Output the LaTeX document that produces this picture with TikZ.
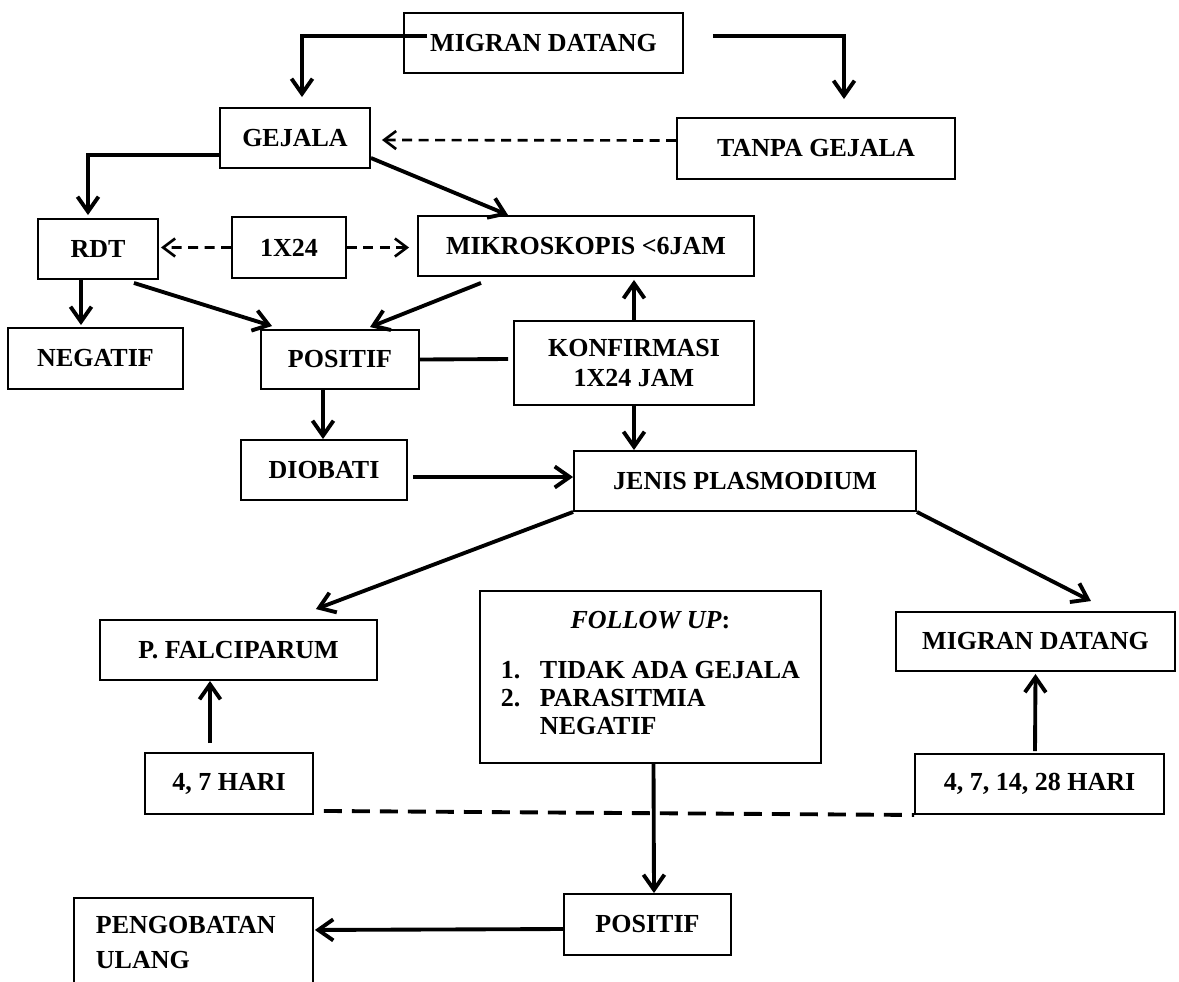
\documentclass[tikz,border=0pt]{standalone}
\usepackage{fontspec}
\setmainfont{Liberation Serif}
\usepackage{tikz}
\usetikzlibrary{calc, arrows.meta}
\tikzstyle{box}=[draw, shape=rectangle, line width=1.1pt, inner sep=0pt, align=center, font=\bfseries\fontsize{14.8}{17}\selectfont]
\tikzstyle{arr}=[line width=2.2pt, -{Straight Barb[length=0.3cm, width=0.42cm]}]
\tikzstyle{darr}=[line width=1.5pt, dash pattern=on 0.2cm off 0.13cm, -{Straight Barb[length=0.24cm, width=0.36cm]}]
\tikzstyle{dline}=[line width=2.2pt, dash pattern=on 0.36cm off 0.2cm]

\begin{document}
\begin{tikzpicture}[x=0.02cm, y=-0.02cm]
\useasboundingbox (0,0) rectangle (1179,981);
\node[box, minimum width=5.58cm, minimum height=1.2cm] (mig) at (543.5,43) {MIGRAN DATANG};
\node[box, minimum width=3cm, minimum height=1.2cm] (gej) at (295,138) {GEJALA};
\node[box, minimum width=5.56cm, minimum height=1.22cm] (tanpa) at (816,148.5) {TANPA GEJALA};
\node[box, minimum width=2.4cm, minimum height=1.2cm] (rdt) at (98,249) {RDT};
\node[box, minimum width=2.28cm, minimum height=1.22cm] (onex) at (289,247.5) {1X24};
\node[box, minimum width=6.72cm, minimum height=1.2cm] (mikro) at (586,246) {MIKROSKOPIS <6JAM};
\node[box, minimum width=3.5cm, minimum height=1.22cm] (neg) at (95.5,358.5) {NEGATIF};
\node[box, minimum width=3.16cm, minimum height=1.18cm] (posa) at (340,359.5) {POSITIF};
\node[box, minimum width=4.8cm, minimum height=1.68cm] (konf) at (634,363) {KONFIRMASI\\1X24 JAM};
\node[box, minimum width=3.32cm, minimum height=1.2cm] (diob) at (324,470) {DIOBATI};
\node[box, minimum width=6.84cm, minimum height=1.2cm] (jenis) at (745,481) {JENIS PLASMODIUM};
\node[box, minimum width=5.54cm, minimum height=1.2cm] (pfal) at (238.5,650) {P. FALCIPARUM};
\node[box, minimum width=6.82cm, minimum height=3.44cm, font=\bfseries\fontsize{14.8}{16}\selectfont] (follow) at (650.5,677)
  {\textit{FOLLOW UP}:\\[16pt]
   \begin{tabular}{@{}p{0.78cm}@{}l@{}}1. & TIDAK ADA GEJALA\\ 2. & PARASITMIA\\ & NEGATIF\end{tabular}};
\node[box, minimum width=5.58cm, minimum height=1.18cm] (migr) at (1035.5,641.5) {MIGRAN DATANG};
\node[box, minimum width=3.36cm, minimum height=1.22cm] (h47) at (229,783.5) {4, 7 HARI};
\node[box, minimum width=4.98cm, minimum height=1.2cm] (h28) at (1039.5,784) {4, 7, 14, 28 HARI};
\node[box, minimum width=3.34cm, minimum height=1.22cm] (posb) at (647.5,924.5) {POSITIF};
\node[box, anchor=north west, text width=3.9cm, inner xsep=0.44cm, minimum height=1.78cm, align=left, font=\bfseries\fontsize{14.8}{20}\selectfont] (peng) at (73,897) {PENGOBATAN\\ULANG};

\draw[arr] ($(mig.west)+(24,-7)$) -| ($(gej.north)+(7,-10)$);
\draw[arr] ($(mig.east)+(29,-7)$) -| ($(tanpa.north)+(28,-18)$);
\draw[darr] ($(tanpa.west)+(0,-8)$) -- ($(gej.east)+(11,2)$);
\draw[arr] ($(gej.west)+(0,17)$) -| ($(rdt.north)+(-10,-3)$);
\draw[arr] ($(gej.east)+(0,20)$) -- ($(mikro.north)+(-78,0)$);
\draw[darr] (onex.west) -- ($(rdt.east)+(2,-1.5)$);
\draw[darr] (onex.east) -- ($(mikro.west)+(-8,1.5)$);
\draw[arr] ($(rdt.south)+(-17,0)$) -- ($(neg.north)+(-14.5,-2)$);
\draw[arr] ($(rdt.south east)+(-25,3)$) -- ($(posa.north)+(-68,-3)$);
\draw[arr] ($(mikro.south)+(-105,6)$) -- ($(posa.north)+(30,-2)$);
\draw[line width=2.2pt] (posa.east) -- ($(konf.west)+(-5,-4)$);
\draw[arr] (konf.north) -- ($(mikro.south)+(48,3)$);
\draw[arr] (konf.south) -- ($(jenis.north)+(-111,0)$);
\draw[arr] ($(posa.south)+(-17,0)$) -- ($(diob.north)+(-1,0)$);
\draw[arr] ($(diob.east)+(5,7)$) -- ($(jenis.west)+(0,-4)$);
\draw[arr] (jenis.south west) -- ($(pfal.north east)+(-62,-10)$);
\draw[arr] (jenis.south east) -- ($(migr.north east)+(-85,-10)$);
\draw[arr] ($(h47.north)+(-19,-9)$) -- ($(pfal.south)+(-28.5,0)$);
\draw[arr] ($(h28.north)+(-4.5,-2)$) -- ($(migr.south)+(0,2)$);
\draw[dline] ($(h47.south east)+(10,-4)$) -- (h28.south west);
\draw[arr] ($(follow.south)+(3,0)$) -- ($(posb.north)+(6.5,0)$);
\draw[arr] ($(posb.west)+(0,4.5)$) -- ($(peng.east)+(1,-12.5)$);
\end{tikzpicture}
\end{document}
